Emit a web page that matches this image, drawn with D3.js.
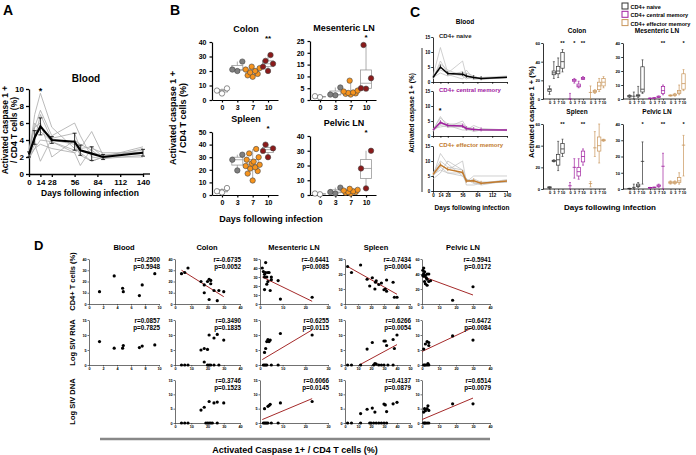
<!DOCTYPE html>
<html><head><meta charset="utf-8">
<script src="https://cdn.jsdelivr.net/npm/d3@7"></script>
<style>body{margin:0;background:#fff} text{font-family:"Liberation Sans",Arial,sans-serif;font-weight:bold}</style>
</head><body><svg id="c" width="696" height="455"></svg>
<script>
// ---------- Panel A data ----------
const aDays = [0, 7, 14, 28, 56, 63, 77, 91, 140];
const aMean = [2.3, 4.3, 5.6, 4.0, 3.8, 2.8, 2.4, 2.0, 2.5];
const aErr  = [0.3, 0.8, 1.0, 0.4, 1.0, 0.6, 0.8, 0.3, 0.4];
const aAnimals = [
  [2.2, 7.0, 9.5, 5.5, 3.0, 2.5, 1.5, 2.0, 3.2],
  [2.5, 5.5, 7.5, 4.5, 6.0, 4.5, 2.0, 1.8, 3.0],
  [2.0, 3.5, 1.5, 4.2, 4.8, 3.0, 5.0, 2.2, 2.8],
  [2.8, 6.0, 5.0, 3.8, 2.5, 1.0, 3.0, 2.5, 2.5],
  [2.4, 4.0, 7.0, 4.0, 3.5, 2.2, 1.5, 2.0, 2.0],
  [1.8, 3.0, 4.0, 3.8, 2.8, 2.8, 2.5, 2.2, 2.4],
  [3.0, 5.5, 6.0, 2.0, 4.0, 3.5, 2.8, 1.8, 2.2],
  [2.0, 3.0, 3.5, 3.0, 2.5, 3.0, 3.2, 2.0, 2.6]
];
const aXTicks = [0, 14, 28, 56, 84, 112, 140];
const aYTicks = [0, 2, 4, 6, 8, 10];

// ---------- Panel B data ----------
const bDays = ["0", "3", "7", "10"];
const bColon  = [[4.5, 6.5, 8], [20, 21, 26.5], [16, 17, 18, 19, 20, 21, 22, 23], [20, 23, 25, 27, 31]];
const bMesLN  = [[1.2, 1.6], [2, 2.3, 5.3], [2.3, 2.6, 2.8, 3, 3.2, 3.6, 4, 8.2], [4.8, 5, 9.2, 23.3]];
const bSpleen = [[2, 3, 5.5], [19.5, 28, 32], [11.5, 17, 19, 21, 22, 23, 24, 25, 26.5, 28, 30, 33, 36.5], [30, 35, 37, 40]];
const bPelvic = [[0.5, 1], [1, 2, 5], [1, 1.5, 2, 2, 2.5, 3, 3.5, 4.2], [4.5, 18, 30]];
const bSig = ["**", "*", "*", "*"];

// ---------- Panel C (left) data ----------
const cDays = [0, 14, 28, 56, 63, 77, 91, 140];
const cNaiveMean = [1.5, 5.0, 2.8, 2.6, 2.0, 1.5, 1.2, 1.6];
const cCMMean    = [2.0, 4.5, 3.5, 3.3, 2.5, 2.2, 2.1, 2.0];
const cEMMean    = [5.5, 8.7, 7.2, 6.2, 3.3, 3.4, 2.6, 3.3];
const cNaiveAnimals = [[1,7,3,2,4,1,1,1.5],[2,11.5,3,3,2,1.5,1,1.5],[1.5,3,2,3.5,1.5,1,1.2,1.8],[1,5,2.5,1,3,2,1,1.5],[2,4,3,7,2,1.5,1.5,2],[1.5,6,4,2,1,2,1,1.3]];
const cCMAnimals = [[2,6,4,3,2,2,2,2],[1.5,5,3,5,3,2.5,2,2.2],[2.5,3,3.5,2,2,3.5,2.5,2],[2,6.5,3,3,2.5,1.5,2,1.8],[1.5,4,4,4,3,2,2.2,2.1],[2,3.5,3,3.5,2,2.5,2,2]];
const cEMAnimals = [[5,12.5,9,5,3,5,5,5],[6,10,8,7,2,2,2.5,3],[4,6,10,7,4,3,2,3.5],[6,9,7,10,3,4,3,3],[5,8,6,5,4,2.5,2.5,3.8],[5.5,7,6,6,3.5,3.5,2.5,3.2]];
const cXTicks = [0, 14, 28, 56, 84, 112, 140];
const cYTicks = [0, 5, 10, 15];
const cSubsets = ["CD4+ naive", "CD4+ central memory", "CD4+ effector memory"];

// ---------- Panel C (right) box data: [min, q1, median, q3, max] ----------
const cColonNaive = [[5,8,10,11,14],[22,26,28,30,40],[23,27,30,35,44],[29,33,40,50,53]];
const cColonCM    = [[0,0,0,0,6],[17,19,20,21,22],[12,13,14,16,19],[21,21,22,23,24]];
const cColonEM    = [[0,7,7,7,14],[6,7,8,9,10],[8,10,14,18,22],[12,14,18,22,24]];
const cMesNaive   = [[1,1.5,2,2.5,3],[0,2,2,2,5],[1,2,2.5,3,9],[4,5,7,23,28]];
const cMesCM      = [[0.3,0.4,0.5,0.6,0.7],[0.5,0.6,0.7,0.8,1],[1,1.2,1.5,2,2.2],[3,4,6,9,10]];
const cMesEM      = [[2,2.2,2.5,2.8,3],[2,2.5,3,3.5,4],[3,4,5,6,10],[6,7,11,18,21]];
const cSplNaive   = [[0.5,1,1.5,2,2],[25,25.5,26,26.5,27],[17,22,27,32,44],[30,33,37,42,46]];
const cSplCM      = [[0,3,3,3,6],[10,20,20,20,28],[9,12,16,20,28],[22,25,30,35,37]];
const cSplEM      = [[2,5,5,5,7],[30,38,38,38,53],[24,35,40,48,60],[44,44.5,45,45.5,46]];
const cPelNaive   = [[0,0.2,0.3,0.4,0.5],[0,1,1,1,3],[1,1.5,2,3,4],[3,17,17,17,29]];
const cPelCM      = [[0.5,0.6,0.8,0.9,1],[0.8,0.9,1,1.1,1.2],[1,1.5,2,2.5,3],[0,14,14,14,22]];
const cPelEM      = [[3,3.5,4,4.5,5],[3,3.5,4,4.5,5],[3,4,5,7,10],[8,27,27,27,33]];
const cColonSig = [["","","","**"],["","*","","**"],["","","",""]];
const cMesSig   = [["","","",""],["","","","**"],["","","","*"]];
const cSplSig   = [["","","","**"],["","","","**"],["","","",""]];
const cPelSig   = [["","","","*"],["","","","**"],["","","","*"]];

// ---------- Panel D data ----------
const dCols = ["Blood", "Colon", "Mesenteric LN", "Spleen", "Pelvic LN"];
const dRowTitles = ["CD4+ T cells (%)", "Log SIV RNA", "Log SIV DNA"];
const dBloodCD4 = [[1.5,11],[3.6,25],[4.8,14],[4.9,11],[7.2,7.5],[7.6,17],[9.4,27]];
const dBloodRNA = [[1.5,7.8],[3.6,5.6],[4.8,5.6],[4.9,6.5],[7.2,5.8],[7.6,6.3],[9.4,6.7]];
const dColonCD4 = [[4,27],[6,28],[8,32],[16,20],[18,17],[18,10],[20,20],[21,22],[21,4],[22,21],[22,18],[24,12],[26,3],[27,12],[30,11]];
const dColonRNA = [[4,0],[6,0],[8,0],[16,5],[18,5.5],[18,1],[20,5.2],[20,0],[21,10],[21,0],[22,0],[24,9],[24,0],[26,10.2],[27,0],[30,8.3]];
const dColonDNA = [[4,0],[6,0],[8,0],[16,4.5],[18,5.5],[19,0],[20,0],[21,7.5],[21,0],[22,0],[23,0],[24,7],[26,7.3],[26,0],[30,7]];
const dMesCD4 = [[1,40],[1.5,36],[2,33],[2,30],[2,16],[2.5,46],[2.5,35],[3,30],[3,22],[3.5,25],[3.5,35],[4,35],[4.5,15],[5,30],[5,27],[8,26],[9,5.5],[23,7.5]];
const dMesRNA = [[1.5,0],[2,0],[2.5,0],[3,0],[5,0],[8,0],[2,4.2],[2.5,5.5],[3,7.8],[3.5,8.5],[4,7.8],[4.5,8.3],[9,10.5],[23,10]];
const dMesDNA = [[1.5,0],[2,0],[2.5,0],[3,0],[3.5,0],[5,0],[8,0],[2,5],[3.5,5.8],[4,6.1],[4.5,6.5],[9,7],[23,7.5]];
const dSplCD4 = [[2,25],[5,21],[12,26],[17,16.5],[19,12],[21,17.5],[23,10],[23.5,14.5],[24,15.5],[26,13],[28,14],[30,9.5],[31,10],[32,8.5],[32,16],[37,14.5],[38,4.5],[40,4.5]];
const dSplRNA = [[2,0],[5,0],[12,0],[17,5.3],[21,7.5],[22,0],[23,0.5],[24,0.3],[26,0],[28,0],[30,8],[30,0],[31,8],[32,6.5],[33,0],[37,8.5],[37,0],[38,5.5],[40,10]];
const dSplDNA = [[2,0],[5,0],[12,3.3],[12,0],[17,4.8],[19,0],[20,0],[21,5.2],[22,0],[23,3.8],[24,0],[26,0],[28,0],[30,6.6],[30,0],[31,6.3],[32,4],[32,0],[37,6.7],[40,7.2]];
const dPelCD4 = [[0.5,45],[0.5,38],[1,48],[1,40],[1,37],[1.5,43],[1.5,30],[2,38],[2,27],[2.5,35],[3,40],[3,33],[3,25],[4,30],[4,40],[5,31],[18,5],[30,23]];
const dPelRNA = [[1,0],[1.5,0],[2,0],[3,0],[3.5,0.5],[4,0],[1,5.3],[2,7],[3,7.8],[4,6.5],[4,7.5],[18,9.7],[30,8.3]];
const dPelDNA = [[1,0],[1.5,0],[2,0],[3,0],[4,0],[1,3.8],[1.5,5],[2,4.3],[3,5],[3.5,6],[4,4.4],[18,6.7],[30,6.7]];
// fitted regression lines [x1, y1, x2, y2] (null = none)
const dFitCD4 = [null, [4,30,30,6.5], [1,30,23,3], [2,25,40,6.5], [0,37,30,12]];
const dFitRNA = [null, null, [1,1.8,23,11.7], [11,0,40,6.8], [0,4.5,30,12.5]];
const dFitDNA = [null, null, [1,1.2,23,8.5], null, [0,1.2,30,8.7]];
const dStatCD4 = [["r=0.2500","p=0.5948"],["r=-0.6735","p=0.0052"],["r=-0.6441","p=0.0085"],["r=-0.7434","p=0.0004"],["r=-0.5941","p=0.0172"]];
const dStatRNA = [["r=0.0857","p=0.7825"],["r=0.3490","p=0.1835"],["r=0.6255","p=0.0115"],["r=0.6266","p=0.0054"],["r=0.6472","p=0.0084"]];
const dStatDNA = [null,["r=0.3746","p=0.1523"],["r=0.6066","p=0.0145"],["r=0.4137","p=0.0879"],["r=0.6514","p=0.0079"]];

// =====================================================
const svg = d3.select("#c");

function styleAxis(a, fs, sw, col) {
  a.selectAll("text").attr("font-size", fs).attr("font-weight", "bold").attr("fill", "#000");
  a.selectAll("line,path").attr("stroke", col || "#000").attr("stroke-width", sw);
}
function drawAxes(g, x, y, o) {
  const tl = o.tl || 2.5, sw = o.sw || 1;
  const ax = g.append("g").attr("transform", `translate(0,${y.range()[0]})`)
    .call(d3.axisBottom(x).tickValues(o.xt).tickSize(tl).tickSizeOuter(0).tickPadding(o.pad || 1));
  if (o.noXLabels) ax.selectAll("text").remove();
  const ay = g.append("g").attr("transform", `translate(${x.range()[0]},0)`)
    .call(d3.axisLeft(y).tickValues(o.yt).tickSize(tl).tickSizeOuter(0).tickPadding(o.pad || 1));
  styleAxis(ax, o.fs, sw, o.col); styleAxis(ay, o.fs, sw, o.col);
  return [ax, ay];
}
function vtext(g, x, y, lines, fs, lh) {
  const t = g.append("text").attr("transform", `translate(${x},${y}) rotate(-90)`)
    .attr("text-anchor", "middle").attr("font-size", fs);
  lines.forEach((l, i) => t.append("tspan").attr("x", 0).attr("dy", i === 0 ? 0 : lh).text(l));
}
function txt(g, x, y, s, fs, anchor, fill) {
  return g.append("text").attr("x", x).attr("y", y).attr("font-size", fs)
    .attr("text-anchor", anchor || "start").attr("fill", fill || "#000").text(s);
}

// ---------------- Panel A ----------------
{
  const g = svg.append("g");
  txt(g, 3, 15, "A", 14);
  const x = d3.scaleLinear([0, 140], [29, 143]);
  const y = d3.scaleLinear([0, 10], [174, 89]);
  drawAxes(g, x, y, {xt: aXTicks, yt: aYTicks, fs: 8, tl: 3, sw: 1.3, pad: 2});
  g.append("line").attr("x1", 143).attr("x2", 150).attr("y1", 174).attr("y2", 174).attr("stroke", "#000").attr("stroke-width", 1.3);
  const line = d3.line().x((d, i) => x(aDays[i])).y(d => y(d));
  aAnimals.forEach(a => g.append("path").attr("d", line(a)).attr("fill", "none").attr("stroke", "#aaa").attr("stroke-width", 0.8));
  aMean.forEach((m, i) => {
    const xx = x(aDays[i]);
    g.append("line").attr("x1", xx).attr("x2", xx).attr("y1", y(m - aErr[i])).attr("y2", y(m + aErr[i])).attr("stroke", "#000").attr("stroke-width", 0.8);
    [m - aErr[i], m + aErr[i]].forEach(v => g.append("line").attr("x1", xx - 2).attr("x2", xx + 2).attr("y1", y(v)).attr("y2", y(v)).attr("stroke", "#000").attr("stroke-width", 0.8));
  });
  g.append("path").attr("d", line(aMean)).attr("fill", "none").attr("stroke", "#000").attr("stroke-width", 2.2);
  txt(g, x(14), 94, "*", 9, "middle");
  txt(g, 86, 82, "Blood", 10, "middle");
  txt(g, 90, 196, "Days following infection", 8.5, "middle");
  vtext(g, 8, 130, ["Activated caspase 1 +", "/ CD4 T cells (%)"], 8.5, 9);
}

// ---------------- Panel B ----------------
{
  const g = svg.append("g");
  txt(g, 170, 15, "B", 14);
  const cols = ["#ffffff", "#7f7f7f", "#f7941d", "#8b1a1a"];
  const offs = [0, -5, 5, -2.5, 2.5, -7, 7, -1, 1, -6, 6, -3.5, 3.5];
  const specs = [
    {title: "Colon", data: bColon, ax: 212, top: 42, bot: 100, max: 40, ticks: [0,10,20,30,40], sig: bSig[0]},
    {title: "Mesenteric LN", data: bMesLN, ax: 310, top: 41, bot: 100, max: 25, ticks: [0,5,10,15,20,25], sig: bSig[1]},
    {title: "Spleen", data: bSpleen, ax: 212, top: 132, bot: 195, max: 50, ticks: [0,10,20,30,40,50], sig: bSig[2]},
    {title: "Pelvic LN", data: bPelvic, ax: 310, top: 136, bot: 195, max: 40, ticks: [0,10,20,30,40], sig: bSig[3]}
  ];
  specs.forEach(s => {
    const x = d3.scalePoint(bDays, [s.ax, s.ax + 66]).padding(0.65);
    const y = d3.scaleLinear([0, s.max], [s.bot, s.top]);
    drawAxes(g, x, y, {xt: bDays, yt: s.ticks, fs: 7, tl: 2.5, sw: 1.2, pad: 3});
    txt(g, s.ax + 34, s.top - 10, s.title, 9, "middle");
    s.data.forEach((vals, i) => {
      const xx = x(bDays[i]);
      const sorted = vals.slice().sort(d3.ascending);
      const q1 = d3.quantile(sorted, 0.25), q3 = d3.quantile(sorted, 0.75), med = d3.median(sorted);
      const bw = 5.5;
      g.append("line").attr("x1", xx).attr("x2", xx).attr("y1", y(d3.min(vals))).attr("y2", y(d3.max(vals))).attr("stroke", "#999").attr("stroke-width", 0.8);
      g.append("rect").attr("x", xx - bw).attr("width", 2 * bw).attr("y", y(q3)).attr("height", y(q1) - y(q3)).attr("fill", "#fff").attr("stroke", "#999").attr("stroke-width", 0.8);
      g.append("line").attr("x1", xx - bw).attr("x2", xx + bw).attr("y1", y(med)).attr("y2", y(med)).attr("stroke", "#999").attr("stroke-width", 0.8);
      vals.forEach((v, j) => g.append("circle").attr("cx", xx + offs[j % offs.length]).attr("cy", y(v)).attr("r", 2.7)
        .attr("fill", cols[i]).attr("stroke", "#444").attr("stroke-width", 0.6));
    });
    txt(g, x("10"), s.top - 1, s.sig, 8, "middle");
  });
  txt(g, 271, 222, "Days following infection", 9, "middle");
  vtext(g, 176, 118, ["Activated caspase 1 +", "/ CD4 T cells (%)"], 9, 10);
}

// ---------------- Panel C left ----------------
{
  const g = svg.append("g");
  txt(g, 410, 17, "C", 14);
  txt(g, 465, 24, "Blood", 6.5, "middle");
  const x = d3.scaleLinear([0, 140], [433, 507]);
  const rows = [
    {top: 37, bot: 82, mean: cNaiveMean, an: cNaiveAnimals, col: "#000", lab: cSubsets[0], labCol: "#222"},
    {top: 91, bot: 136, mean: cCMMean, an: cCMAnimals, col: "#a0209f", lab: cSubsets[1], labCol: "#a0209f"},
    {top: 146, bot: 191, mean: cEMMean, an: cEMAnimals, col: "#c27a2c", lab: cSubsets[2], labCol: "#c27a2c"}
  ];
  rows.forEach((r, ri) => {
    const y = d3.scaleLinear([0, 15], [r.bot, r.top]);
    drawAxes(g, x, y, {xt: cXTicks, yt: cYTicks, fs: 4.5, tl: 1.8, sw: 0.8, pad: 1, noXLabels: ri < 2});
    const line = d3.line().x((d, i) => x(cDays[i])).y(d => y(d));
    r.an.forEach(a => g.append("path").attr("d", line(a)).attr("fill", "none").attr("stroke", "#bbb").attr("stroke-width", 0.7));
    g.append("path").attr("d", line(r.mean)).attr("fill", "none").attr("stroke", r.col).attr("stroke-width", 1.5);
    r.mean.forEach((m, i) => {
      if (i === 0 || i === cDays.length - 1) return;
      g.append("line").attr("x1", x(cDays[i])).attr("x2", x(cDays[i])).attr("y1", y(m - 0.6)).attr("y2", y(m + 0.8)).attr("stroke", r.col).attr("stroke-width", 0.7);
    });
    txt(g, 439, r.top + 1, r.lab, 6, "start", r.labCol);
  });
  txt(g, 440, 113, "*", 7, "middle");
  g.append("line").attr("x1", 422).attr("x2", 422).attr("y1", 48).attr("y2", 192).attr("stroke", "#000").attr("stroke-width", 0.8);
  txt(g, 472, 210, "Days following infection", 6.5, "middle");
  vtext(g, 414, 113, ["Activated caspase 1 + (%)"], 6.5, 7);
}

// ---------------- Panel C right ----------------
{
  const g = svg.append("g");
  const subsetCols = ["#333333", "#a0209f", "#c8955a"];
  const subsetFill = ["#ffffff", "#ffffff", "#ffffff"];
  cSubsets.forEach((s, i) => {
    g.append("rect").attr("x", 622).attr("y", 3 + i * 8.3).attr("width", 6).attr("height", 6)
      .attr("fill", "#fff").attr("stroke", subsetCols[i]).attr("stroke-width", 1);
    txt(g, 630.5, 9 + i * 8.3, s, 5.6);
  });
  const specs = [
    {title: "Colon", sets: [cColonNaive, cColonCM, cColonEM], sig: cColonSig, ax: 543, top: 43, bot: 99, max: 60, ticks: [0,20,40,60]},
    {title: "Mesenteric LN", sets: [cMesNaive, cMesCM, cMesEM], sig: cMesSig, ax: 623, top: 43, bot: 99, max: 40, ticks: [0,10,20,30,40]},
    {title: "Spleen", sets: [cSplNaive, cSplCM, cSplEM], sig: cSplSig, ax: 543, top: 124, bot: 189, max: 60, ticks: [0,20,40,60]},
    {title: "Pelvic LN", sets: [cPelNaive, cPelCM, cPelEM], sig: cPelSig, ax: 623, top: 124, bot: 189, max: 40, ticks: [0,10,20,30,40]}
  ];
  const cBoxDays = ["0", "3", "7", "10"];
  specs.forEach(s => {
    const y = d3.scaleLinear([0, s.max], [s.bot, s.top]);
    const grp = d3.scalePoint(cSubsets, [s.ax + 13, s.ax + 54]);
    const inner = d3.scalePoint(cBoxDays, [-6.5, 6.5]);
    const ay = g.append("g").attr("transform", `translate(${s.ax},0)`)
      .call(d3.axisLeft(y).tickValues(s.ticks).tickSize(1.8).tickSizeOuter(0).tickPadding(1));
    styleAxis(ay, 4.2, 0.8);
    g.append("line").attr("x1", s.ax).attr("x2", s.ax + 63).attr("y1", s.bot).attr("y2", s.bot).attr("stroke", "#000").attr("stroke-width", 0.8);
    txt(g, s.ax + 34, s.top - 10, s.title, 6.5, "middle");
    s.sets.forEach((set, si) => {
      const col = subsetCols[si];
      const gx = grp(cSubsets[si]);
      const axb = g.append("g").attr("transform", `translate(${gx},${s.bot})`)
        .call(d3.axisBottom(inner).tickSize(1.5).tickPadding(0.5));
      axb.select(".domain").remove();
      styleAxis(axb, 4, 0.6);
      set.forEach((b, di) => {
        const xx = gx + inner(cBoxDays[di]);
        const bw = 1.7;
        g.append("line").attr("x1", xx).attr("x2", xx).attr("y1", y(b[0])).attr("y2", y(b[4])).attr("stroke", col).attr("stroke-width", 0.7);
        [b[0], b[4]].forEach(v => g.append("line").attr("x1", xx - 1).attr("x2", xx + 1).attr("y1", y(v)).attr("y2", y(v)).attr("stroke", col).attr("stroke-width", 0.6));
        g.append("rect").attr("x", xx - bw).attr("width", 2 * bw).attr("y", y(b[3])).attr("height", Math.max(0, y(b[1]) - y(b[3])))
          .attr("fill", subsetFill[si]).attr("stroke", col).attr("stroke-width", 0.7);
        g.append("line").attr("x1", xx - bw).attr("x2", xx + bw).attr("y1", y(b[2])).attr("y2", y(b[2])).attr("stroke", col).attr("stroke-width", 0.8);
        const sg = s.sig[si][di];
        if (sg) txt(g, xx, s.top + 2, sg, 5.5, "middle");
      });
    });
  });
  txt(g, 610, 210, "Days following infection", 8, "middle");
  vtext(g, 534, 112, ["Activated caspase 1 + (%)"], 7.5, 8);
}

// ---------------- Panel D ----------------
{
  const g = svg.append("g");
  txt(g, 34, 250, "D", 13);
  const colSpec = [
    {x0: 89, x1: 159, max: 10, ticks: [0,2,4,6,8,10], cd4max: 40, cd4t: [0,10,20,30,40]},
    {x0: 175, x1: 240, max: 40, ticks: [0,10,20,30,40], cd4max: 40, cd4t: [0,10,20,30,40]},
    {x0: 260, x1: 328, max: 30, ticks: [0,10,20,30], cd4max: 50, cd4t: [0,10,20,30,40,50]},
    {x0: 345, x1: 410, max: 50, ticks: [0,10,20,30,40,50], cd4max: 30, cd4t: [0,10,20,30]},
    {x0: 422, x1: 490, max: 40, ticks: [0,10,20,30,40], cd4max: 60, cd4t: [0,20,40,60]}
  ];
  const titleX = [124, 207, 294, 376, 463];
  const rowsY = [{top: 259, bot: 304}, {top: 320, bot: 365}, {top: 380, bot: 423}];
  const dataRows = [
    [dBloodCD4, dColonCD4, dMesCD4, dSplCD4, dPelCD4],
    [dBloodRNA, dColonRNA, dMesRNA, dSplRNA, dPelRNA],
    [null, dColonDNA, dMesDNA, dSplDNA, dPelDNA]
  ];
  const fits = [dFitCD4, dFitRNA, dFitDNA];
  const stats = [dStatCD4, dStatRNA, dStatDNA];
  dCols.forEach((c, ci) => txt(g, titleX[ci], 250, c, 7.5, "middle"));
  dataRows.forEach((row, ri) => {
    row.forEach((pts, ci) => {
      if (!pts) return;
      const cs = colSpec[ci];
      const x = d3.scaleLinear([0, cs.max], [cs.x0, cs.x1]);
      const ymax = ri === 0 ? cs.cd4max : 15;
      const yt = ri === 0 ? cs.cd4t : [0, 5, 10, 15];
      const y = d3.scaleLinear([0, ymax], [rowsY[ri].bot, rowsY[ri].top]);
      drawAxes(g, x, y, {xt: cs.ticks, yt: yt, fs: 3.8, tl: 1.5, sw: 0.7, pad: 0.8, col: "#333"});
      const f = fits[ri][ci];
      if (f) g.append("line").attr("x1", x(f[0])).attr("y1", y(f[1])).attr("x2", x(f[2])).attr("y2", y(f[3]))
        .attr("stroke", "#a52a2a").attr("stroke-width", 1);
      pts.forEach(p => g.append("circle").attr("cx", x(p[0])).attr("cy", y(p[1])).attr("r", 1.6).attr("fill", "#000"));
      const st = stats[ri][ci];
      if (st) {
        txt(g, cs.x1 + 1, rowsY[ri].top + 3, st[0], 6.3, "end");
        txt(g, cs.x1 + 1, rowsY[ri].top + 9.5, st[1], 6.3, "end");
      }
    });
  });
  rowsY.forEach((r, ri) => vtext(g, 75, (r.top + r.bot) / 2, [dRowTitles[ri]], 7.5, 8));
  g.append("line").attr("x1", 100).attr("x2", 490).attr("y1", 439).attr("y2", 439).attr("stroke", "#888").attr("stroke-width", 2.5);
  txt(g, 295, 453, "Activated Caspase 1+ / CD4 T cells (%)", 9, "middle");
}
</script>
</body></html>
